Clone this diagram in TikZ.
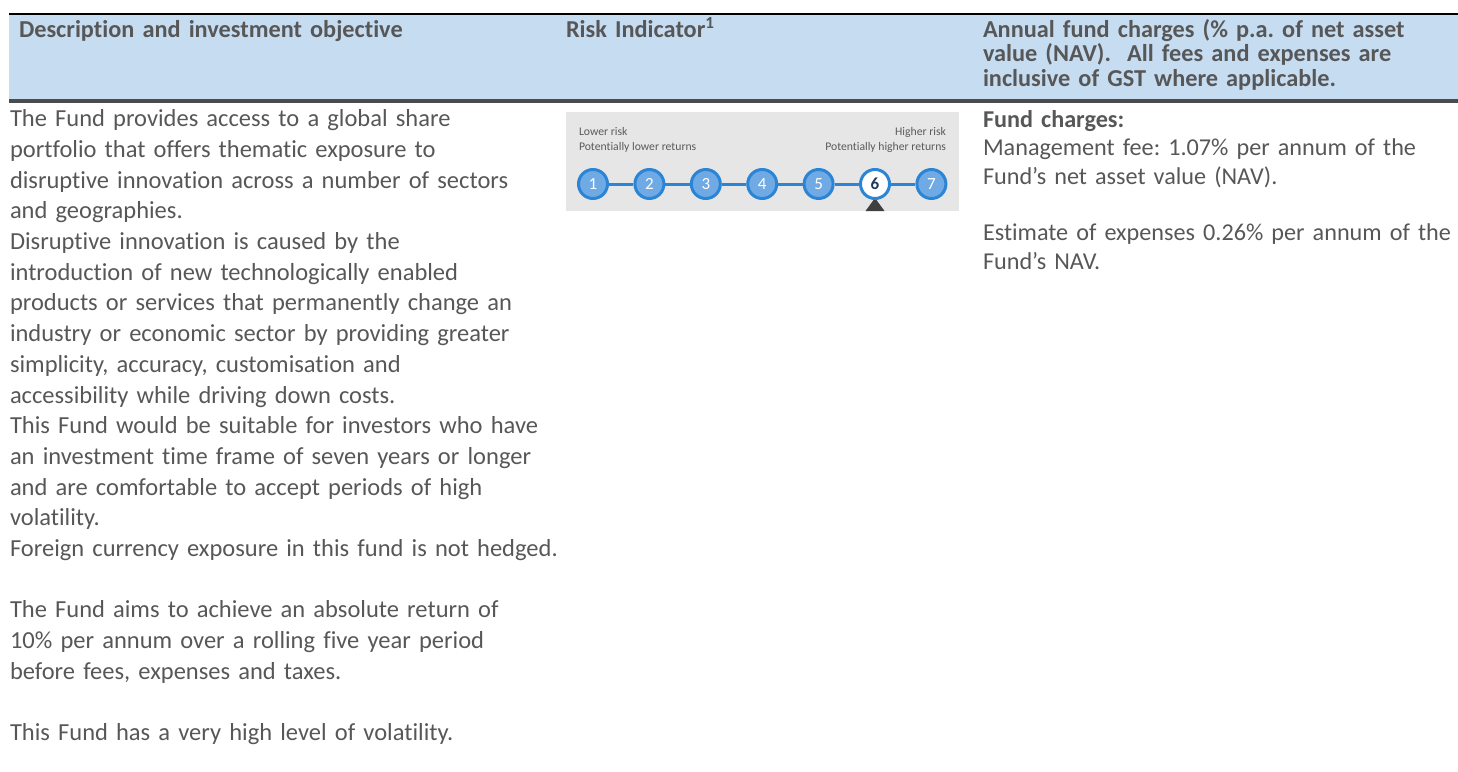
\documentclass[tikz,border=0pt]{standalone}
\usepackage{fontspec}
\setmainfont{Carlito}[Ligatures=CommonOff]
\frenchspacing
\definecolor{txt}{HTML}{575757}
\definecolor{band}{HTML}{C6DCF1}
\definecolor{rulegray}{HTML}{4B4B4B}
\definecolor{boxgray}{HTML}{E6E6E6}
\definecolor{ringblue}{HTML}{2B84D4}
\definecolor{fillblue}{HTML}{6FAAE5}
\definecolor{navy}{HTML}{1D3A5C}
\definecolor{pointer}{HTML}{3F3F3F}
\definecolor{lbltxt}{HTML}{5A5A5A}
\begin{document}
\begin{tikzpicture}[x=1pt,y=-1pt,
  hdr/.style={anchor=base west, inner sep=0pt, outer sep=0pt, text=txt, align=left,
    font=\bfseries\fontsize{24.3pt}{24.5pt}\selectfont},
  bodyA/.style={anchor=base west, inner sep=0pt, outer sep=0pt, text=txt, align=left,
    font=\fontsize{24.5pt}{30.7pt}\selectfont},
  bodyC/.style={anchor=base west, inner sep=0pt, outer sep=0pt, text=txt, align=left,
    font=\fontsize{24.2pt}{28.3pt}\selectfont},
  lbl/.style={inner sep=0pt, outer sep=0pt, text=lbltxt, font=\fontsize{11.7pt}{14pt}\selectfont},
  riskc/.style={circle, draw=ringblue, line width=3pt, fill=fillblue, minimum size=29pt,
    inner sep=0pt, text=white, font=\fontsize{17pt}{17pt}\selectfont},
  riskcur/.style={riskc, fill=white, text=navy, font=\bfseries\fontsize{17pt}{17pt}\selectfont},
  conn/.style={draw=ringblue, line width=3pt}
]
\useasboundingbox (0,0) rectangle (1458,771);

% header band and rules
\fill[band] (9,15) rectangle (1458,99);
\fill[black] (9,13) rectangle (1458,15);
\fill[rulegray] (9,99) rectangle (1458,102.5);

% header texts
\node[hdr, text width=500pt] (h1) at (19,37.3) {Description and investment objective};
\node[hdr, text width=380pt] (h2) at (566,37.3) {Risk Indicator\textsuperscript{1}};
\node[hdr, text width=520pt] (h3) at (983,37.3) {Annual fund charges (\% p.a. of net asset\\value (NAV).~ All fees and expenses are\\inclusive of GST where applicable.};

% column 1 body
\node[bodyA, text width=620pt] (d1) at (10,126.7) {The Fund provides access to a global share\\portfolio that offers thematic exposure to\\disruptive innovation across a number of sectors\\and geographies.\\Disruptive innovation is caused by the\\introduction of new technologically enabled\\products or services that permanently change an\\industry or economic sector by providing greater\\simplicity, accuracy, customisation and\\accessibility while driving down costs.\\This Fund would be suitable for investors who have\\an investment time frame of seven years or longer\\and are comfortable to accept periods of high\\volatility.\\Foreign currency exposure in this fund is not hedged.\\\mbox{}\\The Fund aims to achieve an absolute return of\\10\% per annum over a rolling five year period\\before fees, expenses and taxes.\\\mbox{}\\This Fund has a very high level of volatility.};

% column 3 body
\node[bodyC, text width=540pt] (f1) at (983,127.5) {\textbf{Fund charges:}\\Management fee: 1.07\% per annum of the\\Fund’s net asset value (NAV).\\\mbox{}\\Estimate of expenses 0.26\% per annum of the\\Fund’s NAV.};

% risk indicator
\node[fill=boxgray, minimum width=393pt, minimum height=99pt, anchor=north west, inner sep=0pt, outer sep=0pt] (rbox) at (566,112) {};
\node[lbl, anchor=base west] (lr1) at (579,135.7) {Lower risk};
\node[lbl, anchor=base west] (lr2) at (579,150.7) {Potentially lower returns};
\node[lbl, anchor=base east] (hr1) at (946,135.7) {Higher risk};
\node[lbl, anchor=base east] (hr2) at (946,150.7) {Potentially higher returns};

\fill[pointer] (865.5,211) -- (875,198) -- (884.5,211) -- cycle;

\foreach \i in {1,2,3,4,5,7} {
  \node[riskc] (c\i) at ({593+56.4*(\i-1)},184) {\i};
}
\node[riskcur] (c6) at ({593+56.4*5},184) {6};
\foreach \a/\b in {1/2,2/3,3/4,4/5,5/6,6/7} {
  \draw[conn] (c\a) -- (c\b);
}
\end{tikzpicture}
\end{document}
